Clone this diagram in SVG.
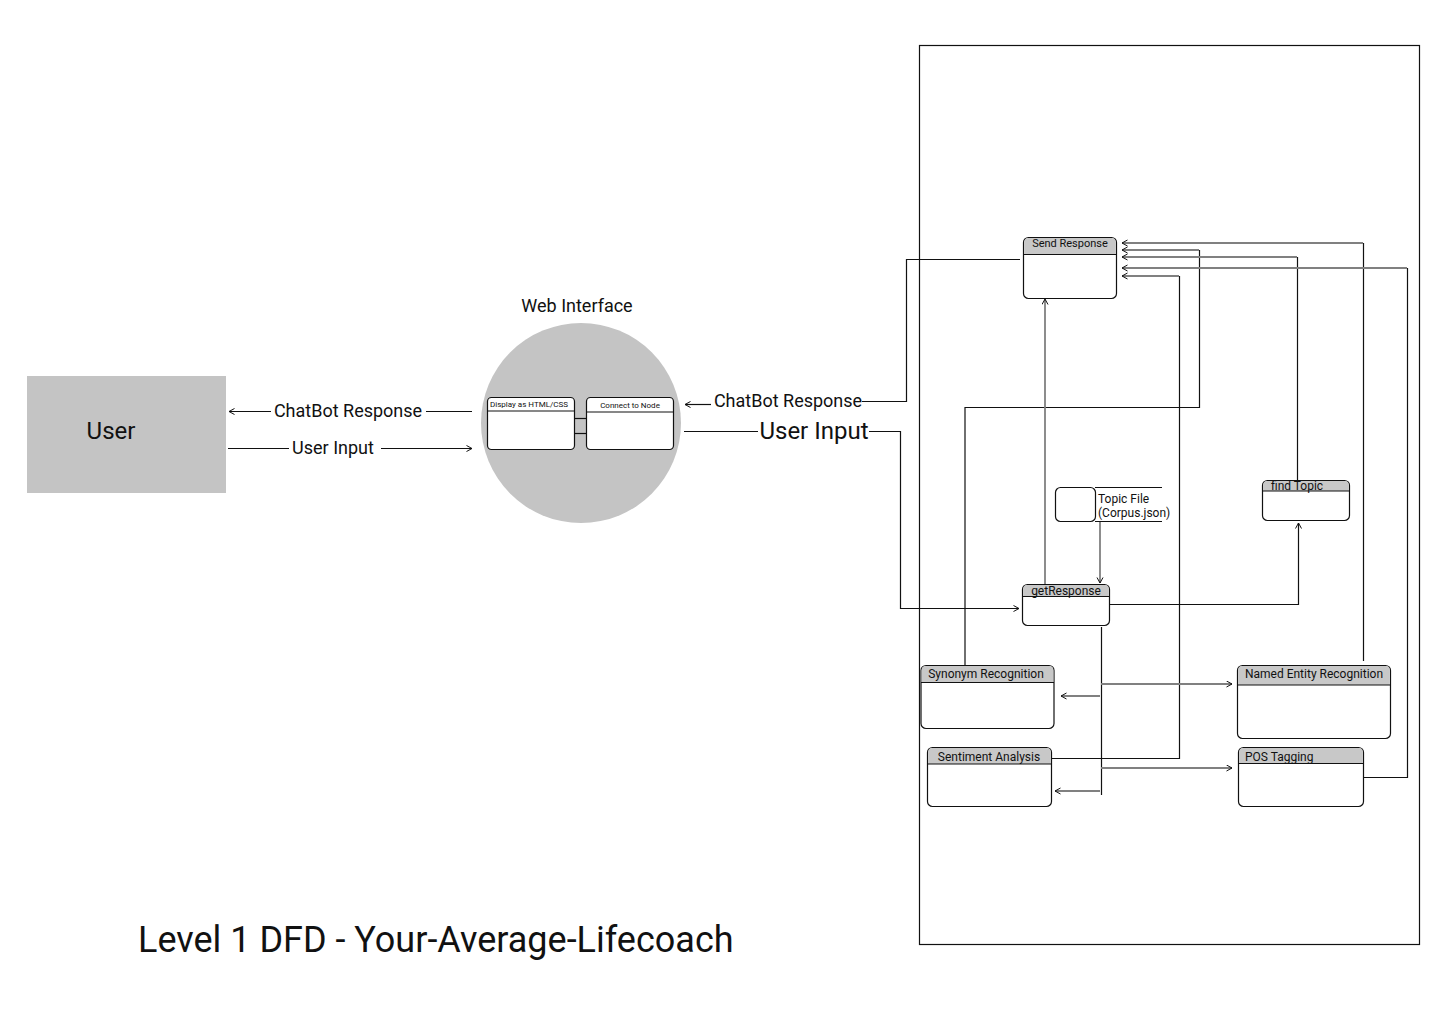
<svg xmlns="http://www.w3.org/2000/svg" width="1440" height="1024" viewBox="0 0 1440 1024">
<style>
text{font-family:Roboto,"Liberation Sans",sans-serif;fill:#111}
.box{fill:#fff;stroke:#111;stroke-width:1.2}
.hdr{fill:#c8c8c8}
.bl{fill:none;stroke:#111;stroke-width:1.2}
.gr{fill:none;stroke:#808080;stroke-width:1.8}
.ab{marker-end:url(#ab)}
.ag{marker-end:url(#ag)}
</style>
<defs>
<marker id="ab" markerUnits="userSpaceOnUse" markerWidth="8" markerHeight="8" refX="6" refY="3.5" orient="auto"><path d="M0.5,0.5 L6,3.5 L0.5,6.5" fill="none" stroke="#111" stroke-width="1"/></marker>
<marker id="ag" markerUnits="userSpaceOnUse" markerWidth="8" markerHeight="8" refX="6" refY="3.5" orient="auto"><path d="M0.5,0.5 L6,3.5 L0.5,6.5" fill="none" stroke="#111" stroke-width="1"/></marker>
</defs>
<rect width="1440" height="1024" fill="#fff"/>

<g id="frame"><rect x="919.5" y="45.5" width="500" height="899" fill="none" stroke="#111" stroke-width="1.2"/></g>

<g id="user">
<rect x="27" y="376" width="199" height="117" fill="#c4c4c4"/>
<text x="111" y="439" font-size="24" text-anchor="middle">User</text>
</g>

<g id="web-interface">
<text x="577" y="312" font-size="18" text-anchor="middle">Web Interface</text>
<circle cx="581" cy="423" r="100" fill="#c4c4c4"/>
<g id="display">
<rect class="box" x="487.5" y="397.5" width="87" height="52" rx="4"/>
<line x1="487.5" y1="411" x2="574.5" y2="411" stroke="#111" stroke-width="1.2"/>
<text x="529" y="407" font-size="8" text-anchor="middle">Display as HTML/CSS</text>
</g>
<g id="connect">
<rect class="box" x="586.5" y="397.5" width="87" height="52" rx="4"/>
<line x1="586.5" y1="412" x2="673.5" y2="412" stroke="#111" stroke-width="1.2"/>
<text x="630" y="408" font-size="8" text-anchor="middle">Connect to Node</text>
</g>
<line x1="574.5" y1="418.5" x2="586.5" y2="418.5" stroke="#111" stroke-width="1.2"/>
<line x1="574.5" y1="433.5" x2="586.5" y2="433.5" stroke="#111" stroke-width="1.2"/>
</g>

<g id="send-response">
<rect class="box" x="1023.5" y="237.5" width="93" height="61" rx="5"/>
<path class="hdr" d="M1024.1,254 V242.5 Q1024.1,238.1 1028.5,238.1 H1111.5 Q1115.9,238.1 1115.9,242.5 V254 Z"/>
<line x1="1023.5" y1="254.5" x2="1116.5" y2="254.5" stroke="#111" stroke-width="1.2"/>
<text x="1070" y="247" font-size="11" text-anchor="middle">Send Response</text>
</g>

<g id="topic-file">
<rect class="box" x="1055.5" y="487.5" width="40" height="34" rx="5"/>
<line x1="1095" y1="487.5" x2="1162" y2="487.5" stroke="#111" stroke-width="1.2"/>
<line x1="1095" y1="521.5" x2="1162" y2="521.5" stroke="#111" stroke-width="1.2"/>
<text x="1098" y="503" font-size="12">Topic File</text>
<text x="1098" y="517" font-size="12">(Corpus.json)</text>
</g>

<g id="find-topic">
<rect class="box" x="1262.5" y="480.5" width="87" height="40" rx="5"/>
<path class="hdr" d="M1263.1,491 V485 Q1263.1,481.1 1267,481.1 H1345 Q1348.9,481.1 1348.9,485 V491 Z"/>
<line x1="1262.5" y1="491" x2="1349.5" y2="491" stroke="#111" stroke-width="1.2"/>
<text x="1271" y="490" font-size="12">find Topic</text>
</g>

<g id="get-response">
<rect class="box" x="1022.5" y="584.5" width="87" height="41" rx="5"/>
<path class="hdr" d="M1023.1,596 V589 Q1023.1,585.1 1027,585.1 H1105 Q1108.9,585.1 1108.9,589 V596 Z"/>
<line x1="1022.5" y1="596.5" x2="1109.5" y2="596.5" stroke="#111" stroke-width="1.2"/>
<text x="1066" y="595" font-size="12" text-anchor="middle">getResponse</text>
</g>

<g id="synonym">
<rect class="box" x="921" y="665.5" width="133" height="63" rx="5"/>
<path class="hdr" d="M921.6,682 V670 Q921.6,666.1 925.5,666.1 H1049.5 Q1053.4,666.1 1053.4,670 V682 Z"/>
<line x1="921" y1="682.5" x2="1054" y2="682.5" stroke="#111" stroke-width="1.2"/>
<text x="986" y="678" font-size="12" text-anchor="middle">Synonym Recognition</text>
</g>

<g id="sentiment">
<rect class="box" x="927.5" y="747.5" width="124" height="59" rx="5"/>
<path class="hdr" d="M928.1,764 V752 Q928.1,748.1 932,748.1 H1047 Q1050.9,748.1 1050.9,752 V764 Z"/>
<line x1="927.5" y1="764" x2="1051.5" y2="764" stroke="#111" stroke-width="1.2"/>
<text x="989" y="761" font-size="12" text-anchor="middle">Sentiment Analysis</text>
</g>

<g id="ner">
<rect class="box" x="1237.5" y="665.5" width="153" height="73" rx="5"/>
<path class="hdr" d="M1238.1,685 V670 Q1238.1,666.1 1242,666.1 H1386 Q1389.9,666.1 1389.9,670 V685 Z"/>
<line x1="1237.5" y1="685" x2="1390.5" y2="685" stroke="#111" stroke-width="1.2"/>
<text x="1314" y="678" font-size="12" text-anchor="middle">Named Entity Recognition</text>
</g>

<g id="pos">
<rect class="box" x="1238.5" y="747.5" width="125" height="59" rx="5"/>
<path class="hdr" d="M1239.1,763 V752 Q1239.1,748.1 1243,748.1 H1359 Q1362.9,748.1 1362.9,752 V763 Z"/>
<line x1="1238.5" y1="763.5" x2="1363.5" y2="763.5" stroke="#111" stroke-width="1.2"/>
<text x="1245" y="761" font-size="12">POS Tagging</text>
</g>

<g id="connectors">
<path class="bl ab" d="M472,411.5 H426 M271,411.5 H229"/>
<text x="348" y="417" font-size="18" text-anchor="middle">ChatBot Response</text>
<path class="bl" d="M228,448.5 H289"/>
<path class="bl ab" d="M381,448.5 H472"/>
<text x="333" y="454" font-size="18" text-anchor="middle">User Input</text>

<path class="bl ab" d="M711,404.5 H685"/>
<text x="788" y="407" font-size="18" text-anchor="middle">ChatBot Response</text>
<path class="bl" d="M862,401.5 H906.5 V259.5 H1020"/>
<path class="bl" d="M684,431.5 H758"/>
<text x="814" y="439" font-size="24" text-anchor="middle">User Input</text>
<path class="bl ab" d="M869,431.5 H900.5 V608.5 H1019"/>

<path class="bl" d="M1363.5,661 V243"/>
<path class="gr ag" d="M1363,243 H1122"/>
<path class="bl" d="M965,665 V407.5 H1199.5 V250"/>
<path class="gr ag" d="M1199,250 H1122"/>
<path class="bl" d="M1297.5,480 V257"/>
<path class="gr ag" d="M1297,257 H1122"/>
<path class="bl" d="M1364,777.5 H1407.5 V268"/>
<path class="gr ag" d="M1407,268 H1122"/>
<path class="bl" d="M1052,758.5 H1179.5 V276"/>
<path class="gr ag" d="M1179,276 H1122"/>

<path class="gr ag" d="M1045,584 V299"/>
<path class="gr ag" d="M1100,522 V583"/>
<path class="bl ab" d="M1109,604.5 H1298.5 V523"/>
<path class="bl" d="M1101.5,627 V795"/>
<path class="gr ag" d="M1101,684 H1232"/>
<path class="gr ag" d="M1100,696 H1061"/>
<path class="gr ag" d="M1101,768 H1232"/>
<path class="gr ag" d="M1100,791 H1055"/>
</g>

<text x="138" y="952" font-size="36">Level 1 DFD - Your-Average-Lifecoach</text>
</svg>
